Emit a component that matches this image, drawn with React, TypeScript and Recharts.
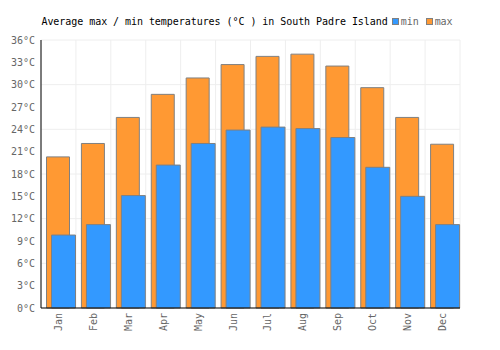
import React from "react";
import {
  BarChart,
  Bar,
  XAxis,
  YAxis,
  CartesianGrid,
  Legend,
  Rectangle,
} from "recharts";

const months = ["Jan", "Feb", "Mar", "Apr", "May", "Jun", "Jul", "Aug", "Sep", "Oct", "Nov", "Dec"];
const maxTemps = [20.3, 22.1, 25.6, 28.7, 30.9, 32.7, 33.8, 34.1, 32.5, 29.6, 25.6, 22.0];
const minTemps = [9.8, 11.2, 15.1, 19.2, 22.1, 23.9, 24.3, 24.1, 22.9, 18.9, 15.0, 11.2];
const yTicks = [0, 3, 6, 9, 12, 15, 18, 21, 24, 27, 30, 33, 36];

const data = months.map((month, i) => ({ month, max: maxTemps[i], min: minTemps[i] }));

const FONT = "'DejaVu Sans Mono', monospace";

// nudge the overlapping pair a bit right inside its band, like the original
const shiftedBar = (props: any) => <Rectangle {...props} x={props.x + 2.5} />;

const MonthTick = (props: any) => {
  const { x, y, payload } = props;
  return (
    <text
      x={x}
      y={y}
      dy="0.35em"
      transform={`rotate(-90, ${x}, ${y})`}
      textAnchor="end"
      fill="#666"
      fontSize={10}
      fontFamily={FONT}
    >
      {payload.value}
    </text>
  );
};

const TitleLegend = () => (
  <div
    style={{
      display: "flex",
      justifyContent: "center",
      alignItems: "center",
      height: 16,
      fontFamily: FONT,
      fontSize: 10,
      letterSpacing: -0.05,
      whiteSpace: "pre",
      marginLeft: -6,
    }}
  >
    <span style={{ color: "#000" }}>Average max / min temperatures (°C ) in South Padre Island</span>
    <span style={{ width: 7, height: 7, background: "#3399ff", border: "1px solid #808080", boxSizing: "border-box", marginLeft: 4, marginRight: 2 }} />
    <span style={{ color: "#666" }}>min</span>
    <span style={{ width: 7, height: 7, background: "#ff9933", border: "1px solid #808080", boxSizing: "border-box", marginLeft: 7, marginRight: 2 }} />
    <span style={{ color: "#666" }}>max</span>
  </div>
);

export default function App() {
  return (
    <div style={{ position: "absolute", left: 0, top: 0, background: "#fff" }}>
      <BarChart
        width={500}
        height={350}
        data={data}
        margin={{ top: 24, right: 40, bottom: 5, left: 0 }}
        barGap={-18}
      >
        <Legend verticalAlign="top" wrapperStyle={{ top: 13, left: 0, width: 500 }} content={<TitleLegend />} />
        <CartesianGrid
          stroke="#eeeeee"
          verticalCoordinatesGenerator={({ offset }: any) =>
            months.map((_, i) => offset.left + (offset.width * i) / months.length).concat(offset.left + offset.width)
          }
        />
        <XAxis
          dataKey="month"
          axisLine={{ stroke: "#000" }}
          tickLine={false}
          tickSize={3}
          tickMargin={2}
          height={37}
          interval={0}
          tick={<MonthTick />}
        />
        <YAxis
          domain={[0, 36]}
          ticks={yTicks}
          width={41}
          axisLine={{ stroke: "#000" }}
          tickLine={false}
          tickSize={4}
          tickMargin={2}
          tickFormatter={(v: number) => `${v}°C`}
          tick={{ fill: "#666", fontSize: 10, fontFamily: FONT }}
        />
        <Bar dataKey="max" barSize={23} fill="#ff9933" stroke="#808080" strokeWidth={1} shape={shiftedBar} isAnimationActive={false} />
        <Bar dataKey="min" barSize={24} fill="#3399ff" stroke="#808080" strokeWidth={1} shape={shiftedBar} isAnimationActive={false} />
      </BarChart>
    </div>
  );
}
